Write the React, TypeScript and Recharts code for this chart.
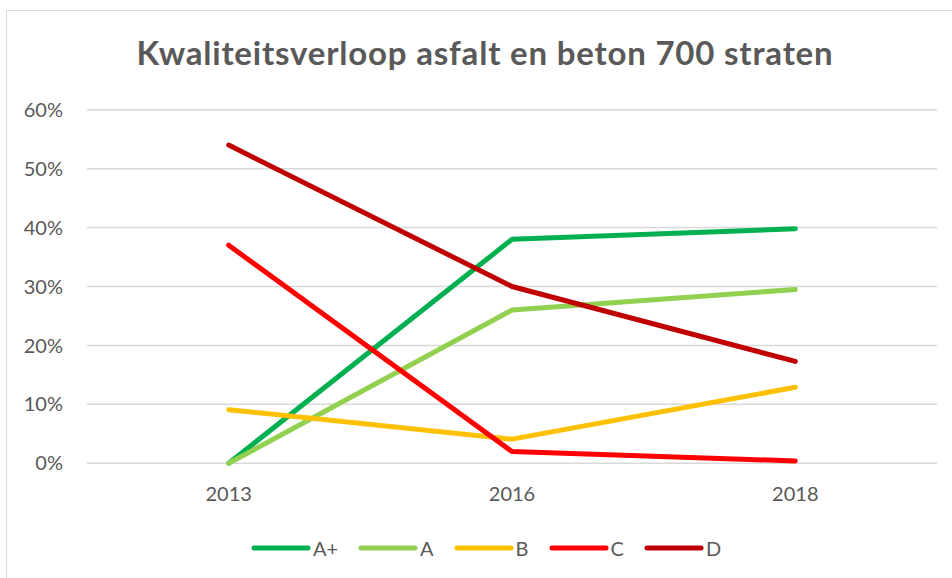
import React from "react";
import { LineChart, Line, XAxis, YAxis, CartesianGrid } from "recharts";

const categories = ["2013", "2016", "2018"];
const seriesNames = ["A+", "A", "B", "C", "D"];
const seriesColors = ["#00B050", "#92D050", "#FFC000", "#FF0000", "#C00000"];
const valuesAPlus = [0, 38, 39.8];
const valuesA = [0, 26, 29.5];
const valuesB = [9.1, 4.1, 12.9];
const valuesC = [37, 2, 0.4];
const valuesD = [54, 30, 17.3];
const yTicks = [0, 10, 20, 30, 40, 50, 60];
const title = "Kwaliteitsverloop asfalt en beton 700 straten";

const seriesValues = [valuesAPlus, valuesA, valuesB, valuesC, valuesD];
const data = categories.map((c, i) => {
  const row: Record<string, string | number> = { year: c };
  seriesNames.forEach((n, s) => {
    row[n] = seriesValues[s][i];
  });
  return row;
});

const FONT = "Lato, 'Open Sans', sans-serif";
const TEXT = "#595959";

export default function App() {
  return (
    <div
      style={{
        position: "absolute",
        left: 0,
        top: 0,
        width: 952,
        height: 578,
        overflow: "hidden",
        background: "#fff",
        fontFamily: FONT,
      }}
    >
      <div
        style={{
          position: "absolute",
          left: 6,
          top: 10,
          width: 1100,
          height: 800,
          border: "1.5px solid #D9D9D9",
        }}
      />
      <svg
        width={952}
        height={100}
        style={{ position: "absolute", left: 0, top: 0 }}
      >
        <text
          x={485}
          y={65}
          textAnchor="middle"
          fontFamily={FONT}
          fontWeight={700}
          fontSize={33}
          letterSpacing={0.8}
          fill={TEXT}
        >
          {title}
        </text>
      </svg>
      <div style={{ position: "absolute", left: 0, top: 0 }}>
        <LineChart
          width={952}
          height={578}
          data={data}
          margin={{ top: 109.7, right: 15, bottom: 84.7, left: 0 }}
        >
          <CartesianGrid vertical={false} stroke="#D9D9D9" strokeWidth={1.5} />
          <XAxis
            dataKey="year"
            axisLine={false}
            tickLine={false}
            tickSize={0}
            tickMargin={23}
            padding={{ left: 141.7, right: 141.7 }}
            tick={{ fill: TEXT, fontSize: 20, fontFamily: FONT }}
          />
          <YAxis
            width={87}
            domain={[0, 60]}
            ticks={yTicks}
            axisLine={false}
            tickLine={false}
            tickSize={0}
            tickMargin={24}
            tickFormatter={(v: number) => `${v}%`}
            tick={{ fill: TEXT, fontSize: 20, fontFamily: FONT }}
          />
          {seriesNames.map((n, i) => (
            <Line
              key={n}
              type="linear"
              dataKey={n}
              stroke={seriesColors[i]}
              strokeWidth={5}
              strokeLinecap="round"
              strokeLinejoin="round"
              dot={false}
              activeDot={false}
              isAnimationActive={false}
            />
          ))}
        </LineChart>
      </div>
      <div
        style={{
          position: "absolute",
          left: 0,
          top: 534,
          width: 972,
          display: "flex",
          justifyContent: "center",
          alignItems: "center",
          gap: 20,
          fontSize: 20,
          color: TEXT,
          fontFamily: FONT,
        }}
      >
        {seriesNames.map((n, i) => (
          <div key={n} style={{ display: "flex", alignItems: "center" }}>
            <svg width={60} height={10} style={{ marginRight: 2 }}>
              <line
                x1={3}
                y1={5}
                x2={57}
                y2={5}
                stroke={seriesColors[i]}
                strokeWidth={5}
                strokeLinecap="round"
              />
            </svg>
            <span style={{ lineHeight: "28px" }}>{n}</span>
          </div>
        ))}
      </div>
    </div>
  );
}
